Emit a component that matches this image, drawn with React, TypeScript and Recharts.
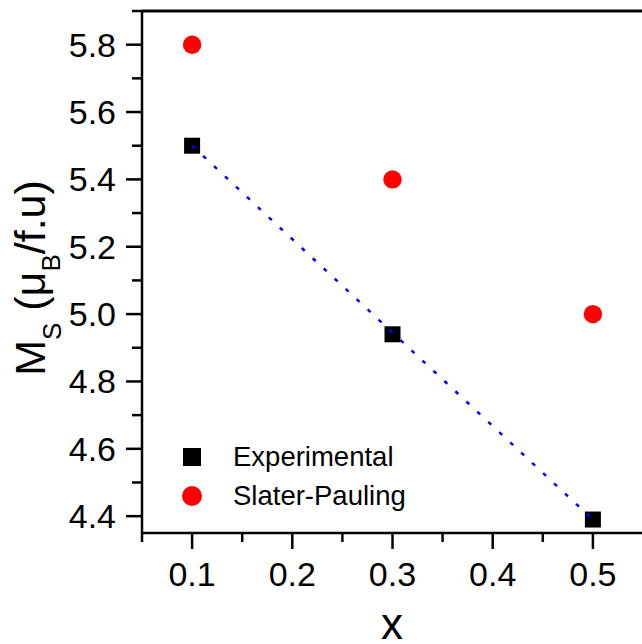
import React from 'react';
import { ComposedChart, Scatter, XAxis, YAxis, Legend, ReferenceLine } from 'recharts';

const experimental = [
  { x: 0.1, y: 5.5 },
  { x: 0.3, y: 4.94 },
  { x: 0.5, y: 4.39 },
];
const slaterPauling = [
  { x: 0.1, y: 5.8 },
  { x: 0.3, y: 5.4 },
  { x: 0.5, y: 5.0 },
];
const fitLine = [
  { x: 0.1, y: 5.5 },
  { x: 0.5, y: 4.39 },
];
const xTicks = [0.05, 0.1, 0.15, 0.2, 0.25, 0.3, 0.35, 0.4, 0.45, 0.5];
const yTicks = [4.4, 4.5, 4.6, 4.7, 4.8, 4.9, 5.0, 5.1, 5.2, 5.3, 5.4, 5.5, 5.6, 5.7, 5.8, 5.9];
const xDomain: [number, number] = [0.05, 0.549];
const yDomain: [number, number] = [4.35, 5.9];

const FONT = '"Liberation Sans", Arial, sans-serif';
const TICK_SIZE = 16;
const Y_TICK_MARGIN = 10;

const YTick = (props: any) => {
  const { x, y, payload } = props;
  const v = payload.value as number;
  const major = Math.round(v * 10) % 2 === 0;
  const axisX = x + TICK_SIZE + Y_TICK_MARGIN;
  const len = major ? 16 : 10;
  return (
    <g>
      <line x1={axisX} x2={axisX - len} y1={y} y2={y} stroke="#000" strokeWidth={2.5} />
      {major && v <= 5.8 && (
        <text x={x} y={y + 12} textAnchor="end" fontSize={34} fill="#000" fontFamily={FONT}>
          {v.toFixed(1)}
        </text>
      )}
    </g>
  );
};

const XTick = (props: any) => {
  const { x, y, payload } = props;
  const v = payload.value as number;
  const major = Math.round(v * 100) % 10 === 0;
  const axisY = y - TICK_SIZE;
  const len = major ? 16 : 9;
  return (
    <g>
      <line x1={x} x2={x} y1={axisY} y2={axisY + len} stroke="#000" strokeWidth={2.5} />
      {major && (
        <text x={x} y={axisY + 53} textAnchor="middle" fontSize={34} fill="#000" fontFamily={FONT}>
          {v.toFixed(1)}
        </text>
      )}
    </g>
  );
};

const YLabel = (props: any) => {
  const vb = props.viewBox || { x: 0, y: 11, width: 142, height: 522 };
  const cx = vb.x + 45;
  const cy = vb.y + vb.height / 2 + 6;
  return (
    <text
      x={cx}
      y={cy}
      transform={`rotate(-90, ${cx}, ${cy})`}
      textAnchor="middle"
      fontSize={43}
      fill="#000"
      fontFamily={FONT}
    >
      <tspan>M</tspan>
      <tspan fontSize={26} dy={16}>S</tspan>
      <tspan dy={-16}>{'\u00A0(μ'}</tspan>
      <tspan fontSize={26} dy={15}>B</tspan>
      <tspan dy={-15}>/f.u)</tspan>
    </text>
  );
};

const XLabel = (props: any) => {
  const vb = props.viewBox || { x: 142, y: 533, width: 500, height: 100 };
  return (
    <text
      x={vb.x + vb.width / 2}
      y={vb.y + 106}
      textAnchor="middle"
      fontSize={44}
      fill="#000"
      fontFamily={FONT}
    >
      x
    </text>
  );
};

const SquareShape = (props: any) => {
  const { cx, cy } = props;
  return <rect x={cx - 8} y={cy - 8} width={16} height={16} fill="#000" />;
};
const CircleShape = (props: any) => {
  const { cx, cy } = props;
  return <circle cx={cx} cy={cy} r={9.2} fill="#ff0000" />;
};
const NoShape = () => <g />;

const legendItems = [
  { name: 'Experimental', kind: 'square', color: '#000' },
  { name: 'Slater-Pauling', kind: 'circle', color: '#ff0000' },
];

const LegendContent = () => (
  <div style={{ fontFamily: FONT }}>
    {legendItems.map((it) => (
      <div key={it.name} style={{ display: 'flex', alignItems: 'center', height: 38.5 }}>
        <div style={{ width: 20, display: 'flex', justifyContent: 'center' }}>
          {it.kind === 'square' ? (
            <div style={{ width: 18, height: 18, background: it.color }} />
          ) : (
            <div style={{ width: 20, height: 20, borderRadius: 10, background: it.color }} />
          )}
        </div>
        <span style={{ marginLeft: 31, fontSize: 27.5, lineHeight: '38px', color: '#000', whiteSpace: 'nowrap' }}>
          {it.name}
        </span>
      </div>
    ))}
  </div>
);

export default function App() {
  return (
    <div style={{ position: 'absolute', left: 0, top: 0, width: 642, height: 644, background: '#fff' }}>
      <ComposedChart width={642} height={644} margin={{ top: 11, right: 0, left: 0, bottom: 11 }}>
        <XAxis
          dataKey="x"
          type="number"
          domain={xDomain}
          allowDataOverflow
          ticks={xTicks}
          interval={0}
          tickSize={TICK_SIZE}
          tickMargin={0}
          tickLine={false}
          tick={<XTick />}
          axisLine={{ stroke: '#000', strokeWidth: 2.5 }}
          height={100}
          label={XLabel}
        />
        <YAxis
          dataKey="y"
          type="number"
          domain={yDomain}
          allowDataOverflow
          ticks={yTicks}
          interval={0}
          tickSize={TICK_SIZE}
          tickMargin={Y_TICK_MARGIN}
          tickLine={false}
          tick={<YTick />}
          axisLine={{ stroke: '#000', strokeWidth: 2.5 }}
          width={142}
          label={YLabel}
        />
        <ReferenceLine y={5.9} stroke="#000" strokeWidth={3} ifOverflow="visible" />
        <Legend
          layout="vertical"
          align="center"
          verticalAlign="middle"
          content={<LegendContent />}
          wrapperStyle={{ position: 'absolute', left: 182, top: 438, width: 300, height: 77, bottom: 'auto', right: 'auto' }}
        />
        <Scatter
          name="Experimental"
          data={experimental}
          shape={<SquareShape />}
          legendType="square"
          isAnimationActive={false}
        />
        <Scatter
          name="Slater-Pauling"
          data={slaterPauling}
          shape={<CircleShape />}
          legendType="circle"
          isAnimationActive={false}
        />
        <Scatter
          name="fit"
          data={fitLine}
          shape={<NoShape />}
          line={{ stroke: '#0000ff', strokeWidth: 2.5, strokeDasharray: '4 11' }}
          legendType="none"
          isAnimationActive={false}
        />
      </ComposedChart>
    </div>
  );
}
